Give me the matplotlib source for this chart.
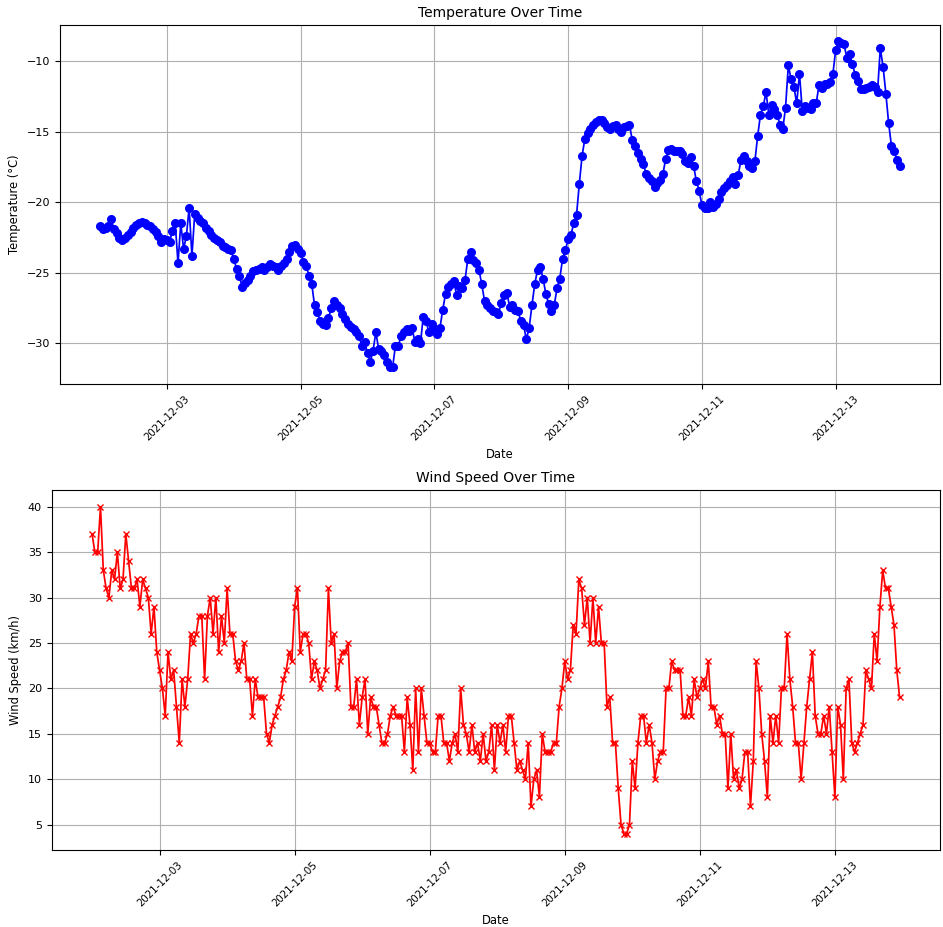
import matplotlib
matplotlib.use('Agg')
import matplotlib.pyplot as plt
import matplotlib.dates as mdates
import pandas as pd

# hourly readings, starting 2021-12-02 00:00
start_time = '2021-12-02 00:00'

temperature = [
    -21.7, -21.9, -21.8, -21.7, -21.2, -21.9, -22.2, -22.5, -22.7, -22.5,
    -22.3, -22.1, -21.8, -21.6, -21.5, -21.4, -21.5, -21.6, -21.7, -21.9,
    -22.1, -22.4, -22.8, -22.6, -22.7, -22.8, -22.0, -21.5, -24.3, -21.5,
    -23.3, -22.4, -20.4, -23.8, -20.8, -21.1, -21.3, -21.5, -21.8, -22.0,
    -22.3, -22.5, -22.7, -22.8, -23.1, -23.2, -23.3, -23.4, -24.0, -24.7,
    -25.2, -26.0, -25.7, -25.5, -25.2, -24.9, -24.8, -24.7, -24.6, -24.8,
    -24.6, -24.4, -24.5, -24.6, -24.8, -24.5, -24.3, -24.0, -23.5, -23.1,
    -23.0, -23.3, -23.6, -24.2, -24.5, -25.2, -25.8, -27.3, -27.8, -28.4,
    -28.6, -28.7, -28.2, -27.5, -27.0, -27.3, -27.5, -27.9, -28.3, -28.6,
    -28.8, -29.0, -29.2, -29.5, -30.2, -29.9, -30.7, -31.3, -30.5, -29.2,
    -30.4, -30.5, -30.8, -31.3, -31.7, -31.7, -30.2, -30.2, -29.5, -29.2,
    -29.0, -29.1, -28.9, -29.9, -29.7, -30.0, -28.1, -28.4, -29.2, -28.6,
    -29.0, -29.3, -28.9, -27.6, -26.5, -26.0, -25.8, -25.6, -26.6, -25.9,
    -26.1, -25.5, -24.0, -23.5, -24.1, -24.3, -24.8, -25.8, -27.0, -27.3,
    -27.5, -27.7, -27.8, -27.9, -27.1, -26.6, -26.4, -27.4, -27.3, -27.6,
    -27.7, -28.4, -28.7, -29.7, -28.9, -27.3, -25.8, -24.8, -24.6, -25.4,
    -26.5, -27.2, -27.7, -27.3, -26.1, -25.4, -24.0, -23.4, -22.6, -22.3,
    -21.5, -20.9, -18.7, -16.7, -15.5, -15.1, -14.8, -14.5, -14.3, -14.2,
    -14.2, -14.4, -14.7, -14.8, -14.6, -14.5, -14.8, -15.0, -14.7, -14.6,
    -14.5, -15.6, -16.0, -16.5, -16.9, -17.3, -18.0, -18.3, -18.5, -18.9,
    -18.6, -18.4, -18.0, -16.9, -16.3, -16.2, -16.4, -16.4, -16.4, -16.6,
    -17.1, -17.2, -16.8, -17.4, -18.5, -19.2, -20.2, -20.4, -20.4, -20.0,
    -20.3, -20.1, -19.8, -19.3, -19.0, -18.8, -18.5, -18.2, -18.7, -18.1,
    -17.0, -16.7, -17.1, -17.4, -17.6, -17.1, -15.3, -13.8, -13.2, -12.2,
    -13.8, -13.1, -13.4, -13.8, -14.5, -14.8, -13.3, -10.3, -11.3, -11.8,
    -13.0, -10.9, -13.5, -13.2, -13.3, -13.4, -13.0, -13.0, -11.7, -11.9,
    -11.6, -11.6, -11.5, -10.9, -9.2, -8.6, -8.7, -8.8, -9.8, -9.5,
    -10.2, -11.0, -11.4, -12.0, -12.0, -11.9, -11.8, -11.7, -11.8, -12.2,
    -9.1, -10.4, -12.3, -14.4, -16.0, -16.4, -17.0, -17.4,
]

wind_speed = [
    37, 35, 35, 40, 33, 31, 30, 33, 32, 35, 31, 32, 37, 34, 31, 31, 32, 29, 32, 31,
    30, 26, 29, 24, 22, 20, 17, 24, 21, 22, 18, 14, 21, 18, 21, 26, 25, 26, 28, 28,
    21, 28, 30, 26, 30, 24, 28, 25, 31, 26, 26, 23, 22, 23, 25, 21, 21, 17,
    21, 19, 19, 19, 15, 14, 16, 17, 18, 19, 21, 22, 24, 23, 29, 31, 24, 26, 26, 25,
    21, 23, 22, 20, 21, 22, 31, 25, 26, 20, 23, 24, 24, 25, 18, 18, 21, 16, 19, 21,
    15, 19, 18, 18, 16, 14, 14, 15, 17, 18, 17, 17,
    17, 13, 19, 16, 11, 20, 13, 20, 17, 14, 14, 13, 13, 17, 17, 14, 14, 12, 14, 15,
    13, 20, 16, 15, 13, 16, 13, 14, 12, 15, 12, 13, 16, 11, 16, 14, 16, 13, 17, 17,
    14, 11, 12, 11, 10, 14, 7, 10, 11, 8, 15, 13, 13, 13, 14, 14,
    18, 20, 23, 21, 22, 27, 26, 32, 31, 27, 30, 25, 30, 25, 29, 25, 25, 18, 19, 14,
    14, 9, 5, 4, 4, 5, 12, 9, 14, 17, 17, 14, 16, 14, 10, 12, 13, 13, 20, 20,
    23, 22, 22, 22, 17, 17, 19, 17, 21, 19, 20, 21, 20, 23, 18, 18, 16,
    17, 15, 15, 9, 15, 10, 11, 9, 10, 13, 13, 7, 12, 23, 20, 15, 12, 8, 17, 14,
    17, 14, 20, 20, 26, 21, 18, 14, 14, 10, 14, 18, 21, 24, 17, 15, 15, 17, 15, 18,
    13, 8, 18, 16, 10, 20, 21, 14, 13, 14, 15, 16, 22, 21, 20, 26, 23, 29, 33, 31,
    31, 29, 27, 22, 19,
]

dates_t = pd.date_range(start_time, periods=len(temperature), freq='h')
dates_w = pd.date_range(start_time, periods=len(wind_speed), freq='h')

fig, (ax1, ax2) = plt.subplots(2, 1, figsize=(9.43, 9.27), dpi=100)

ax1.plot(dates_t, temperature, marker='o', color='b', markersize=5.5, linewidth=1.25)
ax1.set_title('Temperature Over Time', fontsize=10)
ax1.set_xlabel('Date', fontsize=8.3)
ax1.set_ylabel('Temperature (°C)', fontsize=8.3)

ax2.plot(dates_w, wind_speed, marker='x', color='r', markersize=5, linewidth=1.25)
ax2.set_title('Wind Speed Over Time', fontsize=10)
ax2.set_xlabel('Date', fontsize=8.3)
ax2.set_ylabel('Wind Speed (km/h)', fontsize=8.3)

for ax in (ax1, ax2):
    ax.xaxis.set_major_locator(mdates.DayLocator(bymonthday=range(1, 32, 2)))
    ax.xaxis.set_major_formatter(mdates.DateFormatter('%Y-%m-%d'))
    ax.tick_params(axis='x', labelrotation=45, labelsize=7.4)
    ax.tick_params(axis='y', labelsize=8)
    ax.grid(True)

ax1.set_position([0.0636, 0.586, 0.933, 0.387])
ax2.set_position([0.0548, 0.083, 0.942, 0.388])

fig.savefig('out.png', dpi=100)
